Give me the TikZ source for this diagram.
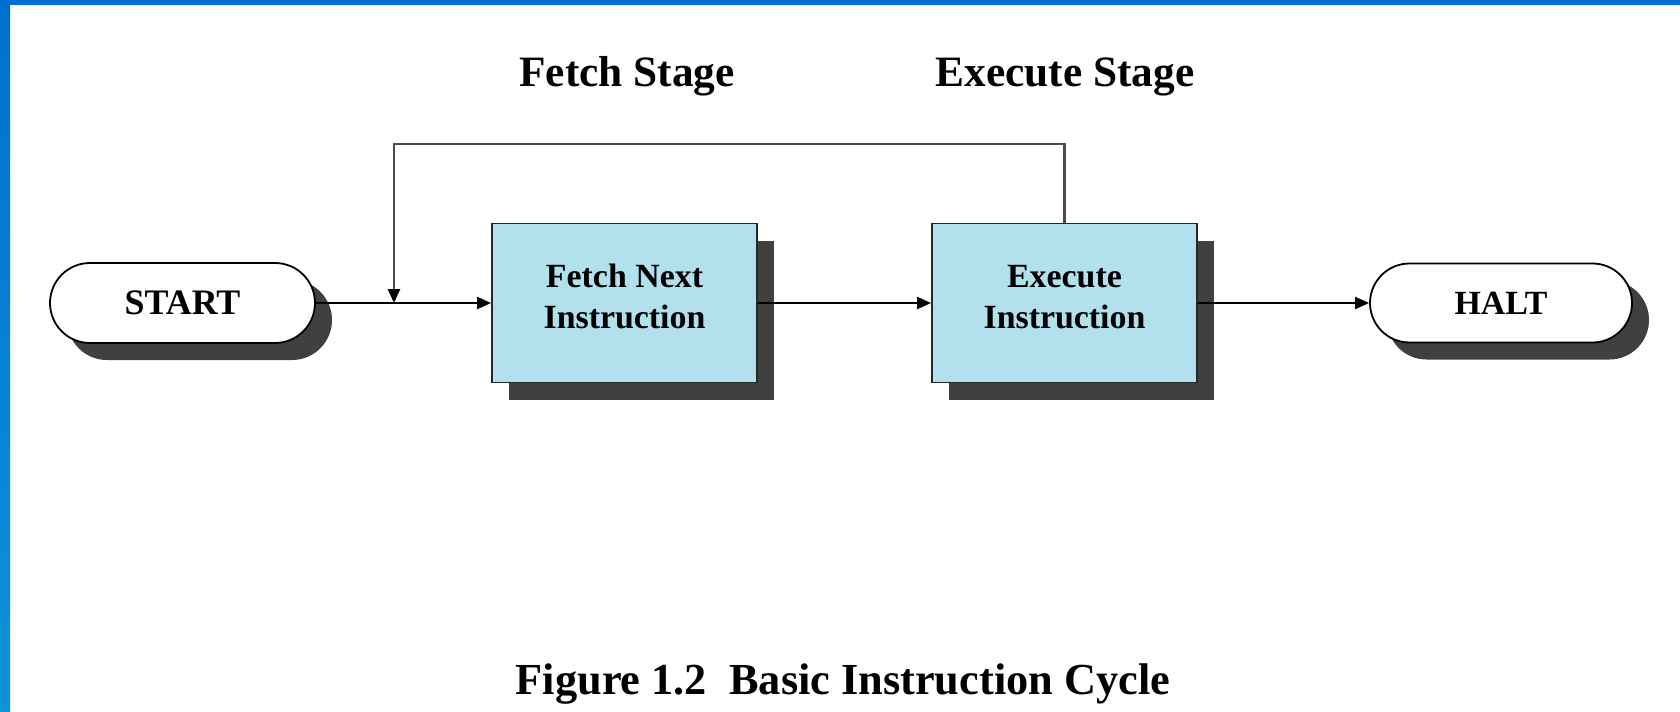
\documentclass[tikz,border=0pt]{standalone}
\usepackage{fontspec}
\setmainfont{Liberation Serif}
\usetikzlibrary{arrows.meta,shapes.misc,shadows}

\definecolor{frameblue}{RGB}{0,112,208}
\definecolor{frameblue2}{RGB}{14,146,218}
\definecolor{boxblue}{RGB}{178,224,236}
\definecolor{shadowgray}{RGB}{64,64,64}

\tikzset{
  shadowed/.style={drop shadow={shadow xshift=17bp, shadow yshift=-17bp,
                                fill=shadowgray, opacity=1}},
  terminal/.style={rounded rectangle, draw=black, line width=1.8bp, fill=white,
                   minimum width=265bp, minimum height=80bp, inner sep=0pt,
                   font=\bfseries\fontsize{34}{41}\selectfont, shadowed},
  process/.style={rectangle, draw=black!85, line width=1.8bp, fill=boxblue,
                  minimum width=265bp, minimum height=159bp, inner sep=0pt,
                  align=center, text depth=13bp,
                  font=\bfseries\fontsize{34}{41}\selectfont, shadowed},
  stage/.style={font=\bfseries\fontsize{43.5}{50}\selectfont, inner sep=0pt},
  caption/.style={font=\bfseries\fontsize{44.5}{52}\selectfont, inner sep=0pt},
  flow/.style={draw=black, line width=2.1bp,
               -{Triangle[length=14bp,width=12bp]}},
  feedback/.style={draw=black!70, line width=2.6bp,
                   -{Triangle[length=14bp,width=12bp,fill=black,color=black]}},
}

\begin{document}
\begin{tikzpicture}[x=1bp, y=-1bp]
  % page and frame
  \useasboundingbox (0,0) rectangle (1680,712);
  \fill[white] (0,0) rectangle (1680,712);
  \fill[frameblue] (0,0) rectangle (1680,5);
  \shade[top color=frameblue, bottom color=frameblue2] (0,0) rectangle (10,712);

  % stage headings
  \node[stage, anchor=base] (fstage) at (627,87) {Fetch Stage};
  \node[stage, anchor=base] (estage) at (1065,87) {Execute Stage};

  % flow nodes
  \node[terminal, font=\bfseries\fontsize{36}{41}\selectfont] (start) at (182.5,303) {START\hspace{8bp}};
  \node[process]  (fetch) at (624.5,303) {Fetch Next\\Instruction};
  \node[process]  (exec)  at (1064.5,303) {Execute\\Instruction};
  \node[terminal, minimum width=262bp, minimum height=79bp] (halt) at (1501,303) {HALT};

  % main flow
  \draw[flow] (start.east) -- (fetch.west);
  \draw[flow] (fetch.east) -- (exec.west);
  \draw[flow] (exec.east) -- (halt.west);

  % loop back to the fetch stage
  \coordinate (turn) at (394,144);
  \coordinate (join) at (394,303);
  \draw[feedback] (exec.north) |- (turn) -- (join);

  % caption
  \node[caption, anchor=base] (figcap) at (843,694) {Figure 1.2\hspace{0.5em}Basic Instruction Cycle};
\end{tikzpicture}
\end{document}
